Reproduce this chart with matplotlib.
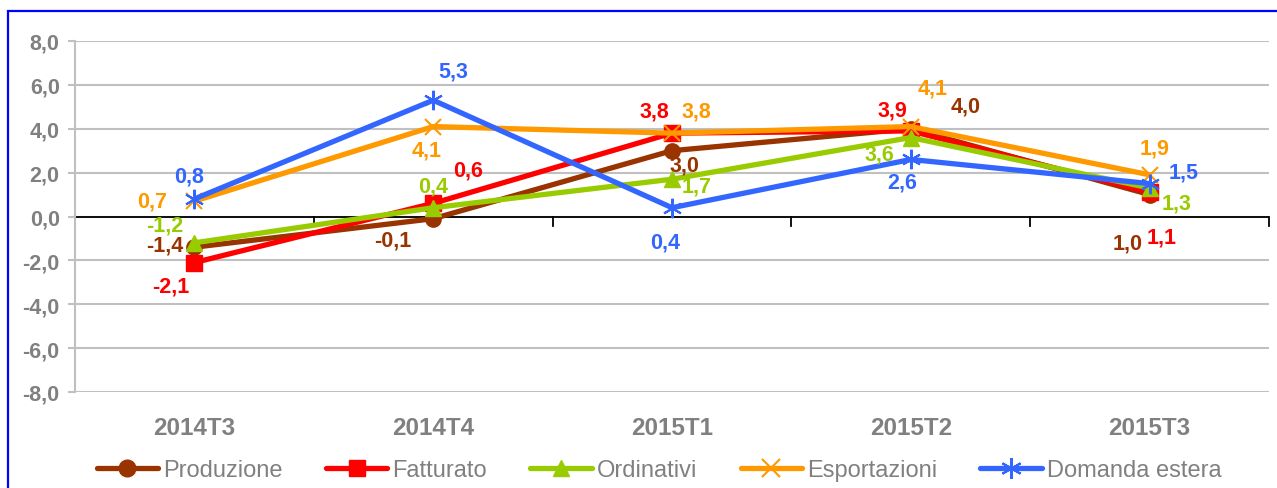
import matplotlib
matplotlib.use("Agg")
import matplotlib.pyplot as plt
from matplotlib.patches import Rectangle
from matplotlib.lines import Line2D

categories = ["2014T3", "2014T4", "2015T1", "2015T2", "2015T3"]
produzione = [-1.4, -0.1, 3.0, 4.0, 1.0]
fatturato = [-2.1, 0.6, 3.8, 3.9, 1.1]
ordinativi = [-1.2, 0.4, 1.7, 3.6, 1.3]
esportazioni = [0.7, 4.1, 3.8, 4.1, 1.9]
domanda_estera = [0.8, 5.3, 0.4, 2.6, 1.5]
series_names = ["Produzione", "Fatturato", "Ordinativi", "Esportazioni", "Domanda estera"]
y_ticks = [-8, -6, -4, -2, 0, 2, 4, 6, 8]

# label offsets in pixels (dx, dy with dy positive = up)
offsets = {
    "Produzione": [(-30, 2), (-40, -21), (12, -14), (55, 23), (-22, -48)],
    "Fatturato": [(-24, -23), (35, 33), (-18, 22), (-18, 21), (12, -45)],
    "Ordinativi": [(-30, 18), (0, 22), (25, -7), (-31, -16), (27, -15)],
    "Esportazioni": [(-42, 0), (-7, -23), (24, 22), (22, 39), (5, 27)],
    "Domanda estera": [(-5, 23), (20, 29), (-7, -34), (-9, -23), (34, 12)],
}

styles = {
    "Produzione": dict(color="#993300", marker="o", ms=11, mew=1),
    "Fatturato": dict(color="#FF0000", marker="s", ms=11, mew=1),
    "Ordinativi": dict(color="#99CC00", marker="^", ms=11, mew=1),
    "Esportazioni": dict(color="#FF9900", marker="x", ms=12, mew=1.5),
    "Domanda estera": dict(color="#3366FF", marker=(6, 2, 0), ms=14, mew=1.5),
}
data = {
    "Produzione": produzione,
    "Fatturato": fatturato,
    "Ordinativi": ordinativi,
    "Esportazioni": esportazioni,
    "Domanda estera": domanda_estera,
}

plt.rcParams['font.family'] = ['Liberation Sans', 'DejaVu Sans']

W, H = 1277, 489
fig = plt.figure(figsize=(W / 100, H / 100), dpi=100)
fig.patches.append(Rectangle((8 / W, -0.1), 1.5, 1 - 12 / H + 0.1, transform=fig.transFigure,
                             fill=False, edgecolor="#0000FF", lw=1.6))

ax = fig.add_axes([75 / W, 1 - 393 / H, (1269 - 75) / W, (393 - 42) / H])
x = list(range(len(categories)))
ax.set_xlim(-0.5, len(categories) - 0.5)
ax.set_ylim(-8, 8)

for yv in y_ticks:
    ax.axhline(yv, color="#C0C0C0", lw=1.5, zorder=0)
ax.axhline(0, color="black", lw=1.3, zorder=1)
for b in [0.5, 1.5, 2.5, 3.5, 4.5]:
    ax.plot([b, b], [0, -0.45], color="black", lw=1.3, zorder=1, clip_on=False)

for s in ax.spines.values():
    s.set_visible(False)
ax.spines["left"].set_visible(True)
ax.spines["left"].set_color("#C0C0C0")
ax.spines["left"].set_linewidth(1.5)

ax.set_yticks(y_ticks)
ax.set_yticklabels([f"{v:.1f}".replace(".", ",") for v in y_ticks],
                   fontsize=15.5, fontweight="bold", color="#808080")
ax.tick_params(axis="y", length=5, width=1.5, color="#C0C0C0", pad=6)
ax.set_xticks(x)
ax.set_xticklabels(categories, fontsize=17.5, fontweight="bold", color="#808080")
ax.tick_params(axis="x", length=0, pad=17)

handles = []
for name in series_names:
    st = styles[name]
    vals = data[name]
    ax.plot(x, vals, color=st["color"], lw=3.8, marker=st["marker"], ms=st["ms"],
            mec=st["color"], mfc=st["color"], mew=st["mew"], zorder=3,
            solid_capstyle="round", clip_on=False)
    handles.append(Line2D([], [], color=st["color"], lw=3.8, marker=st["marker"], ms=st["ms"] + 1,
                          mec=st["color"], mfc=st["color"], mew=st["mew"], solid_capstyle="round"))
    for i, v in enumerate(vals):
        dx, dy = offsets[name][i]
        ax.annotate(f"{v:.1f}".replace(".", ","), (x[i], v), xytext=(dx, dy),
                    textcoords="offset pixels", ha="center", va="center",
                    fontsize=15.5, fontweight="bold", color=st["color"], zorder=5)

leg = fig.legend(handles, series_names, loc="center", bbox_to_anchor=(0.516, 1 - 471 / H),
                 ncol=5, frameon=False, fontsize=17, handlelength=2.6, handletextpad=0.2,
                 columnspacing=1.85, borderpad=0)
for t in leg.get_texts():
    t.set_color("#808080")

fig.savefig("out.png", dpi=100)
